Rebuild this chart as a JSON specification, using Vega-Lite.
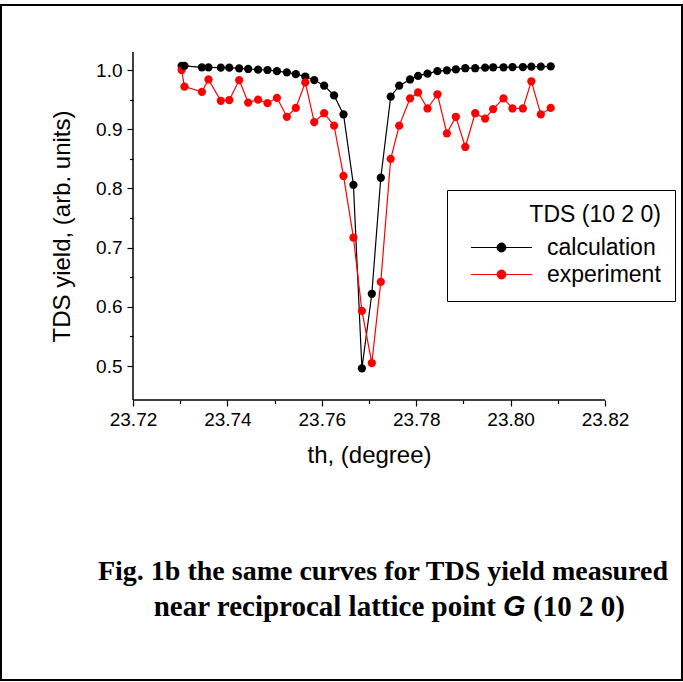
{
  "$schema": "https://vega.github.io/schema/vega-lite/v6.json",
  "width": 681,
  "height": 675,
  "autosize": "none",
  "padding": {"left": 1, "top": 5, "right": 1, "bottom": 2},
  "background": "white",
  "config": {
    "font": "Liberation Sans",
    "view": {"stroke": "black", "strokeWidth": 2, "fill": "white"}
  },
  "layer": [
    {
      "data": {"values": [{}]},
      "mark": {"type": "rule", "color": "black", "strokeWidth": 1.5},
      "encoding": {
        "x": {"datum": 23.72, "type": "quantitative", "scale": {"domain": [23.6920339, 23.8363136], "nice": false, "zero": false}},
        "x2": {"datum": 23.82},
        "y": {"datum": 0.442568, "type": "quantitative", "scale": {"domain": [-0.0304054, 1.1097973], "nice": false, "zero": false}}
      }
    },
    {
      "data": {"values": [{}]},
      "mark": {"type": "rule", "color": "black", "strokeWidth": 1.5},
      "encoding": {
        "x": {"datum": 23.72, "type": "quantitative", "scale": {"domain": [23.6920339, 23.8363136], "nice": false, "zero": false}},
        "y": {"datum": 0.442568, "type": "quantitative", "scale": {"domain": [-0.0304054, 1.1097973], "nice": false, "zero": false}},
        "y2": {"datum": 1.030405}
      }
    },
    {
      "data": {
        "values": [
          {"th": 23.7303, "calculation": 1.007, "experiment": 1.000},
          {"th": 23.7309, "calculation": 1.007, "experiment": 0.972},
          {"th": 23.7346, "calculation": 1.0045, "experiment": 0.963},
          {"th": 23.7360, "calculation": 1.0045, "experiment": 0.984},
          {"th": 23.7386, "calculation": 1.004, "experiment": 0.948},
          {"th": 23.7404, "calculation": 1.004, "experiment": 0.949},
          {"th": 23.7425, "calculation": 1.0028, "experiment": 0.983},
          {"th": 23.7444, "calculation": 1.0017, "experiment": 0.945},
          {"th": 23.7465, "calculation": 1.0005, "experiment": 0.950},
          {"th": 23.7485, "calculation": 1.000, "experiment": 0.944},
          {"th": 23.7505, "calculation": 0.998, "experiment": 0.953},
          {"th": 23.7526, "calculation": 0.996, "experiment": 0.921},
          {"th": 23.7545, "calculation": 0.993, "experiment": 0.936},
          {"th": 23.7565, "calculation": 0.989, "experiment": 0.979},
          {"th": 23.7584, "calculation": 0.983, "experiment": 0.912},
          {"th": 23.7605, "calculation": 0.9735, "experiment": 0.927},
          {"th": 23.7626, "calculation": 0.957, "experiment": 0.906},
          {"th": 23.7646, "calculation": 0.925, "experiment": 0.821},
          {"th": 23.7667, "calculation": 0.806, "experiment": 0.717},
          {"th": 23.7685, "calculation": 0.496, "experiment": 0.593},
          {"th": 23.7706, "calculation": 0.622, "experiment": 0.505},
          {"th": 23.7725, "calculation": 0.818, "experiment": 0.642},
          {"th": 23.7746, "calculation": 0.955, "experiment": 0.850},
          {"th": 23.7764, "calculation": 0.9735, "experiment": 0.906},
          {"th": 23.7787, "calculation": 0.984, "experiment": 0.952},
          {"th": 23.7804, "calculation": 0.990, "experiment": 0.962},
          {"th": 23.7824, "calculation": 0.994, "experiment": 0.935},
          {"th": 23.7845, "calculation": 0.998, "experiment": 0.959},
          {"th": 23.7865, "calculation": 0.9995, "experiment": 0.893},
          {"th": 23.7884, "calculation": 1.001, "experiment": 0.921},
          {"th": 23.7904, "calculation": 1.003, "experiment": 0.870},
          {"th": 23.7925, "calculation": 1.003, "experiment": 0.927},
          {"th": 23.7946, "calculation": 1.004, "experiment": 0.918},
          {"th": 23.7963, "calculation": 1.0046, "experiment": 0.934},
          {"th": 23.7985, "calculation": 1.0046, "experiment": 0.952},
          {"th": 23.8004, "calculation": 1.005, "experiment": 0.935},
          {"th": 23.8026, "calculation": 1.005, "experiment": 0.935},
          {"th": 23.8044, "calculation": 1.0056, "experiment": 0.981},
          {"th": 23.8064, "calculation": 1.0056, "experiment": 0.925},
          {"th": 23.8085, "calculation": 1.006, "experiment": 0.936}
        ]
      },
      "transform": [{"fold": ["calculation", "experiment"], "as": ["series", "yield"]}],
      "mark": {"type": "line", "strokeWidth": 1.2, "point": {"filled": true, "size": 68, "opacity": 1}},
      "encoding": {
        "x": {
          "field": "th", "type": "quantitative",
          "scale": {"domain": [23.6920339, 23.8363136], "nice": false, "zero": false},
          "axis": {
            "orient": "bottom", "offset": -280, "domain": false, "grid": false,
            "values": [23.72, 23.73, 23.74, 23.75, 23.76, 23.77, 23.78, 23.79, 23.80, 23.81, 23.82],
            "tickColor": "black", "tickWidth": 1.2,
            "tickSize": {"condition": {"test": "round(datum.value*100)%2==0", "value": 6}, "value": 3.5},
            "labelExpr": "round(datum.value*100)%2==0 ? format(datum.value,'.2f') : ''",
            "labelFont": "Liberation Sans", "labelFontSize": 19, "labelColor": "black", "labelPadding": 4,
            "labelOverlap": false, "labelFlush": false, "labelBound": false,
            "title": "th, (degree)", "titleFont": "Liberation Sans", "titleFontSize": 24, "titleFontWeight": "normal",
            "titleColor": "black", "titleX": 368, "titleY": 55, "titleBaseline": "middle", "titleAlign": "center"
          }
        },
        "y": {
          "field": "yield", "type": "quantitative",
          "scale": {"domain": [-0.0304054, 1.1097973], "nice": false, "zero": false},
          "axis": {
            "orient": "left", "offset": -132, "domain": false, "grid": false,
            "values": [0.5, 0.55, 0.6, 0.65, 0.7, 0.75, 0.8, 0.85, 0.9, 0.95, 1.0],
            "tickColor": "black", "tickWidth": 1.2,
            "tickSize": {"condition": {"test": "round(datum.value*100)%10==0", "value": 6}, "value": 3.5},
            "labelExpr": "round(datum.value*100)%10==0 ? format(datum.value,'.1f') : ''",
            "labelFont": "Liberation Sans", "labelFontSize": 19, "labelColor": "black", "labelPadding": 5,
            "labelOverlap": false, "labelFlush": false, "labelBound": false,
            "title": "TDS yield, (arb. units)", "titleFont": "Liberation Sans", "titleFontSize": 24, "titleFontWeight": "normal",
            "titleColor": "black", "titleX": -71, "titleY": 221, "titleAngle": -90, "titleBaseline": "middle", "titleAlign": "center"
          }
        },
        "color": {
          "field": "series", "type": "nominal",
          "scale": {"domain": ["calculation", "experiment"], "range": ["#000000", "#ff0000"]},
          "legend": {
            "orient": "none", "legendX": 446, "legendY": 185,
            "title": "TDS (10 2 0)", "titleFont": "Liberation Sans", "titleFontSize": 23, "titleFontWeight": "normal",
            "titleColor": "black", "titleAnchor": "end", "titlePadding": 9,
            "labelFont": "Liberation Sans", "labelFontSize": 23, "labelColor": "black", "labelOffset": 34,
            "symbolType": "M-6.1,0H6.1M-0.9,0A0.9,0.9,0,1,0,0.9,0A0.9,0.9,0,1,0,-0.9,0Z",
            "symbolSize": 100, "symbolStrokeWidth": 1, "symbolOffset": 29,
            "padding": 14, "rowPadding": 3, "strokeColor": "black", "fillColor": "white",
            "encode": {"symbols": {"update": {"fill": {"scale": "color", "field": "value"}, "stroke": {"scale": "color", "field": "value"}, "opacity": {"value": 1}}}}
          }
        }
      }
    },
    {
      "data": {"values": [{}]},
      "mark": {"type": "text", "text": "Fig. 1b the same curves for TDS yield measured", "font": "Liberation Serif", "fontWeight": "bold", "fontSize": 28, "align": "center", "baseline": "middle", "color": "black"},
      "encoding": {
        "x": {"datum": 23.772966, "type": "quantitative", "scale": {"domain": [23.6920339, 23.8363136], "nice": false, "zero": false}},
        "y": {"datum": 0.152027, "type": "quantitative", "scale": {"domain": [-0.0304054, 1.1097973], "nice": false, "zero": false}}
      }
    },
    {
      "data": {"values": [{}]},
      "mark": {"type": "text", "text": "near reciprocal lattice point", "font": "Liberation Serif", "fontWeight": "bold", "fontSize": 29, "align": "right", "baseline": "middle", "color": "black"},
      "encoding": {
        "x": {"datum": 23.796907, "type": "quantitative", "scale": {"domain": [23.6920339, 23.8363136], "nice": false, "zero": false}},
        "y": {"datum": 0.092905, "type": "quantitative", "scale": {"domain": [-0.0304054, 1.1097973], "nice": false, "zero": false}}
      }
    },
    {
      "data": {"values": [{}]},
      "mark": {"type": "text", "text": "G", "font": "Liberation Sans", "fontWeight": "bold", "fontStyle": "italic", "fontSize": 29, "align": "left", "baseline": "middle", "color": "black"},
      "encoding": {
        "x": {"datum": 23.79839, "type": "quantitative", "scale": {"domain": [23.6920339, 23.8363136], "nice": false, "zero": false}},
        "y": {"datum": 0.092905, "type": "quantitative", "scale": {"domain": [-0.0304054, 1.1097973], "nice": false, "zero": false}}
      }
    },
    {
      "data": {"values": [{}]},
      "mark": {"type": "text", "text": "(10 2 0)", "font": "Liberation Serif", "fontWeight": "bold", "fontSize": 29, "align": "left", "baseline": "middle", "color": "black"},
      "encoding": {
        "x": {"datum": 23.804746, "type": "quantitative", "scale": {"domain": [23.6920339, 23.8363136], "nice": false, "zero": false}},
        "y": {"datum": 0.092905, "type": "quantitative", "scale": {"domain": [-0.0304054, 1.1097973], "nice": false, "zero": false}}
      }
    }
  ]
}
